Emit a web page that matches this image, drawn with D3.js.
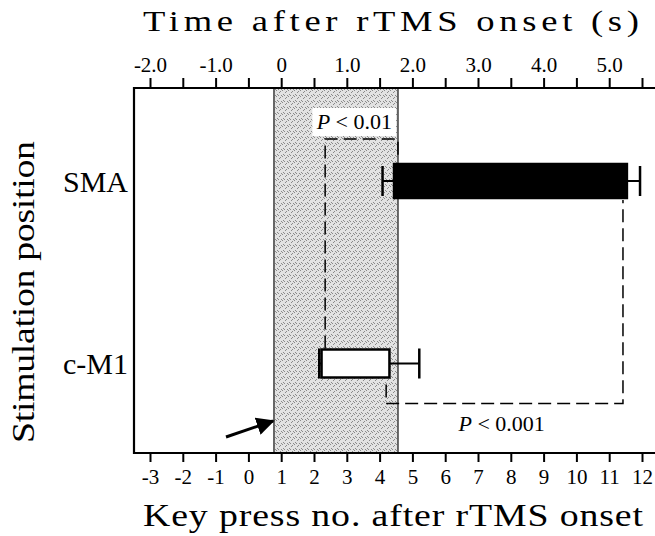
<!DOCTYPE html>
<html>
<head>
<meta charset="utf-8">
<title>rTMS key press</title>
<script src="https://cdn.jsdelivr.net/npm/d3@7"></script>
<style>
  body { margin: 0; background: #fff; }
  text { font-family: "Liberation Serif", "Times New Roman", serif; fill: #000; }
</style>
</head>
<body>
<div id="chart"></div>
<script>
// data (key press numbers)
var positions = ["SMA", "c-M1"];
var boxLow = [4.44, 2.23];
var boxHigh = [11.54, 4.30];
var whiskerLow = [4.09, 2.16];
var whiskerHigh = [11.94, 5.21];
var boxFill = ["#000", "#fff"];
var keyTicks = d3.range(-3, 13);           // bottom axis
var timeTicks = d3.range(-2, 5.51, 0.5);   // top axis, every 0.5 s
var timeLabels = [-2, -1, 0, 1, 2, 3, 4, 5];
var rtmsWindow = [0.78, 4.56];             // shaded stimulation period

var w = 655, h = 536;
var mLeft = 134, mTop = 88, mBottom = 453;

var svg = d3.select("#chart").append("svg")
  .attr("width", w).attr("height", h);

var x = d3.scaleLinear().domain([-3, 12]).range([150, 642]);
// 2 key presses per second, key press 1 = rTMS onset
var xt = d3.scaleLinear().domain([-2, 5.5]).range([x(-3), x(12)]);
var y = d3.scalePoint().domain(positions).range([181, 363.5]);

// stipple pattern for the rTMS window
var defs = svg.append("defs");
var pat = defs.append("pattern").attr("id", "stip")
  .attr("width", 6).attr("height", 6).attr("patternUnits", "userSpaceOnUse");
pat.append("rect").attr("width", 6).attr("height", 6).attr("fill", "#e2e2e2");
[[0, 0], [3, 2], [1, 4], [5, 5], [4, 1], [2, 5]].forEach(function (p) {
  pat.append("rect").attr("x", p[0]).attr("y", p[1]).attr("width", 1).attr("height", 1).attr("fill", "#8a8a8a");
});

svg.append("rect")
  .attr("x", x(rtmsWindow[0])).attr("y", mTop)
  .attr("width", x(rtmsWindow[1]) - x(rtmsWindow[0]))
  .attr("height", mBottom - mTop)
  .attr("fill", "url(#stip)");
rtmsWindow.forEach(function (v) {
  svg.append("line").attr("x1", x(v)).attr("x2", x(v)).attr("y1", mTop).attr("y2", mBottom)
    .attr("stroke", "#5a5a5a").attr("stroke-width", 1.8);
});

// frame: left, top, bottom lines (right side is cropped)
svg.append("path")
  .attr("d", "M" + w + "," + mTop + "H" + mLeft + "V" + mBottom + "H" + w)
  .attr("fill", "none").attr("stroke", "#000").attr("stroke-width", 2.2);

// bottom axis
var bAxis = svg.append("g").attr("transform", "translate(0," + mBottom + ")")
  .call(d3.axisBottom(x).tickValues(keyTicks).tickSize(9).tickPadding(7).tickFormat(function (d) { return String(d); }));
bAxis.select(".domain").remove();
bAxis.selectAll("line").attr("stroke-width", 2);
bAxis.selectAll("text").attr("font-size", 21).style("font-family", "Liberation Serif, serif");

// top axis
var tAxis = svg.append("g").attr("transform", "translate(0," + mTop + ")")
  .call(d3.axisTop(xt).tickValues(timeTicks).tickSize(10).tickPadding(6)
    .tickFormat(function (d) { return timeLabels.indexOf(d) >= 0 ? (d === 0 ? "0" : d.toFixed(1)) : ""; }));
tAxis.select(".domain").remove();
tAxis.selectAll("line").attr("stroke-width", 2);
tAxis.selectAll("text").attr("font-size", 21).style("font-family", "Liberation Serif, serif");

// box + whiskers
var barH = [34, 28];
positions.forEach(function (p, i) {
  var cy = y(p), bh = barH[i];
  var g = svg.append("g");
  g.append("line").attr("x1", x(whiskerLow[i])).attr("x2", x(boxLow[i])).attr("y1", cy).attr("y2", cy)
    .attr("stroke", "#000").attr("stroke-width", 2);
  g.append("line").attr("x1", x(boxHigh[i])).attr("x2", x(whiskerHigh[i])).attr("y1", cy).attr("y2", cy)
    .attr("stroke", "#000").attr("stroke-width", 2);
  [whiskerLow[i], whiskerHigh[i]].forEach(function (v) {
    g.append("line").attr("x1", x(v)).attr("x2", x(v)).attr("y1", cy - 15).attr("y2", cy + 15)
      .attr("stroke", "#000").attr("stroke-width", 2.5);
  });
  g.append("rect").attr("x", x(boxLow[i])).attr("y", cy - bh / 2)
    .attr("width", x(boxHigh[i]) - x(boxLow[i])).attr("height", bh)
    .attr("fill", boxFill[i]).attr("stroke", "#000").attr("stroke-width", 2.5);
});

// significance brackets
var ySMA = y("SMA"), yM1 = y("c-M1");
var dash = "13,6";
svg.append("path")
  .attr("d", "M" + x(2.34) + "," + (yM1 - 15) + "V" + (ySMA - 42) + "H" + x(4.56) + "V" + (ySMA - 24))
  .attr("fill", "none").attr("stroke", "#000").attr("stroke-width", 1.5).attr("stroke-dasharray", dash);
svg.append("path")
  .attr("d", "M" + x(4.2) + "," + (yM1 + 21) + "V" + (yM1 + 40) + "H" + x(11.42) + "V" + (ySMA + 19))
  .attr("fill", "none").attr("stroke", "#000").attr("stroke-width", 1.5).attr("stroke-dasharray", dash);

// P labels
svg.append("rect").attr("x", x(1.95)).attr("y", ySMA - 73).attr("width", x(4.5) - x(1.95)).attr("height", 28)
  .attr("fill", "#fff");
var p1 = svg.append("text").attr("x", x(3.23)).attr("y", ySMA - 52).attr("text-anchor", "middle").attr("font-size", 22);
p1.append("tspan").attr("font-style", "italic").text("P");
p1.append("tspan").text(" < 0.01");
var p2 = svg.append("text").attr("x", x(7.72)).attr("y", yM1 + 67).attr("text-anchor", "middle").attr("font-size", 22);
p2.append("tspan").attr("font-style", "italic").text("P");
p2.append("tspan").text(" < 0.001");

// arrow pointing at rTMS onset
defs.append("marker").attr("id", "ah").attr("viewBox", "0 0 10 10").attr("refX", 9).attr("refY", 5)
  .attr("markerWidth", 6).attr("markerHeight", 6).attr("orient", "auto")
  .append("path").attr("d", "M0,0L10,5L0,10Z").attr("fill", "#000");
svg.append("line").attr("x1", 226).attr("y1", 437).attr("x2", x(rtmsWindow[0]) - 1).attr("y2", 421)
  .attr("stroke", "#000").attr("stroke-width", 3).attr("marker-end", "url(#ah)");

// category labels
svg.selectAll(".cat").data(positions).enter().append("text")
  .attr("x", 128).attr("y", function (d) { return y(d); }).attr("dy", "0.35em")
  .attr("text-anchor", "end").attr("font-size", 30).text(function (d) { return d; });

// titles: the original face is set wide, so stretch horizontally a bit
var sx = 1.22;
function wideTitle(tx, ty, rot, size, len, str) {
  svg.append("text")
    .attr("transform", "translate(" + tx + "," + ty + ") rotate(" + rot + ") scale(" + sx + ",1)")
    .attr("font-size", size)
    .attr("textLength", len / sx).attr("lengthAdjust", "spacing")
    .text(str);
}
wideTitle(143, 31, 0, 30, 496, "Time after rTMS onset (s)");
wideTitle(143, 526, 0, 31, 500, "Key press no. after rTMS onset");
wideTitle(34, 443, -90, 31, 302, "Stimulation position");
</script>
</body>
</html>
